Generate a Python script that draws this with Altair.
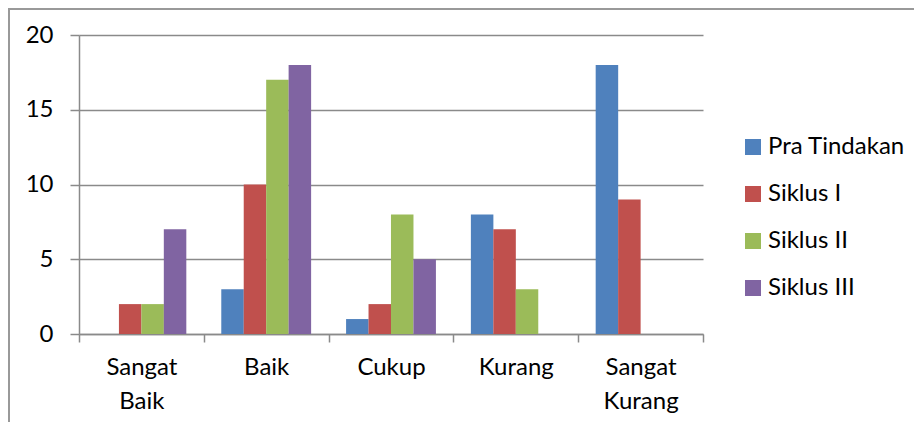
import altair as alt
import pandas as pd

categories = ["Sangat Baik", "Baik", "Cukup", "Kurang", "Sangat Kurang"]
series = ["Pra Tindakan", "Siklus I", "Siklus II", "Siklus III"]
pra_tindakan = [0, 3, 1, 8, 18]
siklus_1 = [2, 10, 2, 7, 9]
siklus_2 = [2, 17, 8, 3, 0]
siklus_3 = [7, 18, 5, 0, 0]
colors = ["#4F81BD", "#C0504D", "#9BBB59", "#8064A2"]
y_ticks = [0, 5, 10, 15, 20]

rows = []
for s, vals in zip(series, [pra_tindakan, siklus_1, siklus_2, siklus_3]):
    for c, v in zip(categories, vals):
        rows.append({"Kategori": c, "Seri": s, "Nilai": v})
df = pd.DataFrame(rows)

FONT = "Lato"
FS = 24
GRAY = "#8a8a8a"

bars = alt.Chart(df).mark_bar(size=22.5).encode(
    x=alt.X("Kategori:N", sort=categories,
            scale=alt.Scale(paddingInner=0, paddingOuter=0),
            axis=alt.Axis(title=None, labelAngle=0, tickBand="extent",
                          labelExpr="split(datum.label, ' ')",
                          labelLineHeight=34, labelPadding=13,
                          tickSize=8, tickColor=GRAY, tickWidth=1.5,
                          domainColor=GRAY, domainWidth=1.5,
                          labelFont=FONT, labelFontSize=FS, labelColor="#000",
                          labelBaseline="top")),
    xOffset=alt.XOffset("Seri:N", sort=series,
                        scale=alt.Scale(paddingInner=0, paddingOuter=0.78)),
    y=alt.Y("Nilai:Q", scale=alt.Scale(domain=[0, 20]),
            axis=alt.Axis(title=None, values=y_ticks, grid=True,
                          gridColor=GRAY, gridWidth=1.5,
                          tickSize=9, tickColor=GRAY, tickWidth=1.5,
                          domainColor=GRAY, domainWidth=1.5,
                          labelPadding=17, labelFont=FONT, labelFontSize=FS,
                          labelColor="#000")),
    color=alt.Color("Seri:N", sort=series,
                    scale=alt.Scale(domain=series, range=colors),
                    legend=alt.Legend(title=None, orient="none",
                                      legendX=662, legendY=100,
                                      symbolType="square", symbolSize=256,
                                      symbolStrokeWidth=0,
                                      labelFont=FONT, labelFontSize=FS,
                                      labelColor="#000", labelOffset=3,
                                      rowPadding=23)),
)

frame_src = pd.DataFrame({"k": [0]})
left_line = alt.Chart(frame_src).mark_rule(color="#999999", strokeWidth=2).encode(
    x=alt.value(-70), y=alt.value(-27), y2=alt.value(400))
top_line = alt.Chart(frame_src).mark_rule(color="#999999", strokeWidth=2).encode(
    x=alt.value(-71), x2=alt.value(845), y=alt.value(-26))

chart = alt.layer(bars, left_line, top_line).properties(
    width=624, height=299,
    autosize=alt.AutoSizeParams(type="none"),
    padding={"left": 71, "top": 27, "right": 211, "bottom": 88},
).configure_view(stroke=None)

chart.save("out.html", embed_options={"renderer": "svg", "actions": False})
